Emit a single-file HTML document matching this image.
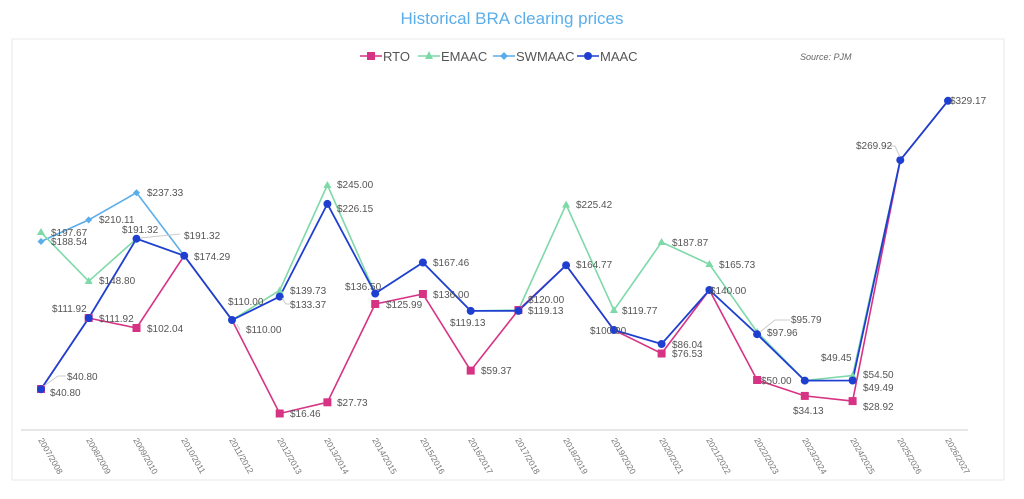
<!DOCTYPE html>
<html><head><meta charset="utf-8"><style>
html,body{margin:0;padding:0;background:#fff;}
svg{display:block;font-family:"Liberation Sans",sans-serif;}
</style></head><body>
<svg width="1024" height="499" viewBox="0 0 1024 499">
<rect x="12" y="39" width="992" height="441" fill="#fff" stroke="#e8e8e8"/>
<text x="512" y="24" text-anchor="middle" font-size="17" fill="#5aaeea">Historical BRA clearing prices</text>
<g font-size="13" fill="#555">
<line x1="360" y1="56" x2="382" y2="56" stroke="#d63384" stroke-width="1.5"/><rect x="367" y="52" width="8" height="8" fill="#d63384"/><text x="383" y="61">RTO</text>
<line x1="418" y1="56" x2="440" y2="56" stroke="#7dd9a8" stroke-width="1.5"/><polygon points="429,51 433,59 425,59" fill="#7dd9a8"/><text x="441" y="61">EMAAC</text>
<line x1="493" y1="56" x2="515" y2="56" stroke="#5aaeea" stroke-width="1.5"/><polygon points="504,52 508,56 504,60 500,56" fill="#5aaeea"/><text x="516" y="61">SWMAAC</text>
<line x1="577" y1="56" x2="599" y2="56" stroke="#1f3fd0" stroke-width="1.5"/><circle cx="588" cy="56" r="4" fill="#1f3fd0"/><text x="600" y="61">MAAC</text>
</g>
<text x="800" y="60" font-size="9" font-style="italic" fill="#666">Source: PJM</text>
<line x1="21" y1="430" x2="968" y2="430" stroke="#ddd" stroke-width="1.5"/>
<g font-size="8.5" fill="#777">
<text transform="translate(38,440) rotate(60)">2007/2008</text>
<text transform="translate(86,440) rotate(60)">2008/2009</text>
<text transform="translate(133,440) rotate(60)">2009/2010</text>
<text transform="translate(181,440) rotate(60)">2010/2011</text>
<text transform="translate(229,440) rotate(60)">2011/2012</text>
<text transform="translate(277,440) rotate(60)">2012/2013</text>
<text transform="translate(324,440) rotate(60)">2013/2014</text>
<text transform="translate(372,440) rotate(60)">2014/2015</text>
<text transform="translate(420,440) rotate(60)">2015/2016</text>
<text transform="translate(468,440) rotate(60)">2016/2017</text>
<text transform="translate(515,440) rotate(60)">2017/2018</text>
<text transform="translate(563,440) rotate(60)">2018/2019</text>
<text transform="translate(611,440) rotate(60)">2019/2020</text>
<text transform="translate(659,440) rotate(60)">2020/2021</text>
<text transform="translate(706,440) rotate(60)">2021/2022</text>
<text transform="translate(754,440) rotate(60)">2022/2023</text>
<text transform="translate(802,440) rotate(60)">2023/2024</text>
<text transform="translate(850,440) rotate(60)">2024/2025</text>
<text transform="translate(897,440) rotate(60)">2025/2026</text>
<text transform="translate(945,440) rotate(60)">2026/2027</text>
</g>
<!-- SWMAAC -->
<polyline fill="none" stroke="#5aaeea" stroke-width="1.6" points="41,241.5 88.7,219.9 136.5,192.7 184.2,255.7"/>
<!-- EMAAC -->
<polyline fill="none" stroke="#7dd9a8" stroke-width="1.6" points="41,232.3 88.7,281.2 136.5,238.7 184.2,255.7 232,320 279.7,290.3 327.4,185 375.2,293.5 422.9,262.5 470.7,310.9 518.4,310 566.1,204.6 613.9,310.2 661.6,242.1 709.4,264.3 757.1,332 804.8,380.6 852.6,375.5 900.3,160.1 948,100.8"/>
<!-- RTO -->
<polyline fill="none" stroke="#d63384" stroke-width="1.6" points="41,389.2 88.7,318.1 136.5,328 184.2,255.7 232,320 279.7,413.5 327.4,402.3 375.2,304 422.9,294 470.7,370.6 518.4,310 566.1,265.2 613.9,330 661.6,353.5 709.4,290 757.1,380 804.8,395.9 852.6,401.1 900.3,160.1 948,100.8"/>
<!-- MAAC -->
<polyline fill="none" stroke="#1f3fd0" stroke-width="1.8" points="41,389.2 88.7,318.1 136.5,238.7 184.2,255.7 232,320 279.7,296.6 327.4,203.9 375.2,293.5 422.9,262.5 470.7,310.9 518.4,310.9 566.1,265.2 613.9,330 661.6,344 709.4,290 757.1,334.2 804.8,380.6 852.6,380.5 900.3,160.1 948,100.8"/>
<g fill="#5aaeea">
<polygon points="41,238 44.5,241.5 41,245 37.5,241.5"/><polygon points="88.7,216.4 92.2,219.9 88.7,223.4 85.2,219.9"/><polygon points="136.5,189.2 140,192.7 136.5,196.2 133,192.7"/>
</g>
<g fill="#7dd9a8">
<polygon points="41,228 45,235 37,235"/><polygon points="88.7,277 92.7,284 84.7,284"/><polygon points="327.4,181 331.4,188 323.4,188"/><polygon points="566.1,200.6 570.1,207.6 562.1,207.6"/><polygon points="613.9,306 617.9,313 609.9,313"/><polygon points="661.6,238 665.6,245 657.6,245"/><polygon points="709.4,260 713.4,267 705.4,267"/><polygon points="757.1,328 761.1,335 753.1,335"/><polygon points="852.6,371.5 856.6,378.5 848.6,378.5"/><polygon points="279.7,286.5 283.7,293.5 275.7,293.5"/>
</g>
<g fill="#d63384">
<rect x="37" y="385" width="8" height="8"/><rect x="84.7" y="314" width="8" height="8"/><rect x="132.5" y="324" width="8" height="8"/><rect x="275.7" y="409.5" width="8" height="8"/><rect x="323.4" y="398.3" width="8" height="8"/><rect x="371.2" y="300" width="8" height="8"/><rect x="418.9" y="290" width="8" height="8"/><rect x="466.7" y="366.6" width="8" height="8"/><rect x="514.4" y="306" width="8" height="8"/><rect x="657.6" y="349.5" width="8" height="8"/><rect x="753.1" y="376" width="8" height="8"/><rect x="800.8" y="391.9" width="8" height="8"/><rect x="848.6" y="397.1" width="8" height="8"/>
</g>
<g fill="#1f3fd0">
<circle cx="41" cy="389.2" r="4"/><circle cx="88.7" cy="318.1" r="4"/><circle cx="136.5" cy="238.7" r="4"/><circle cx="184.2" cy="255.7" r="4"/><circle cx="232" cy="320" r="4"/><circle cx="279.7" cy="296.6" r="4"/><circle cx="327.4" cy="203.9" r="4"/><circle cx="375.2" cy="293.5" r="4"/><circle cx="422.9" cy="262.5" r="4"/><circle cx="470.7" cy="310.9" r="4"/><circle cx="518.4" cy="310.9" r="4"/><circle cx="566.1" cy="265.2" r="4"/><circle cx="613.9" cy="330" r="4"/><circle cx="661.6" cy="344" r="4"/><circle cx="709.4" cy="290" r="4"/><circle cx="757.1" cy="334.2" r="4"/><circle cx="804.8" cy="380.6" r="4"/><circle cx="852.6" cy="380.5" r="4"/><circle cx="900.3" cy="160.1" r="4"/><circle cx="948" cy="100.8" r="4"/>
</g>
<g stroke="#ccc" fill="none">
<path d="M44,386 L58,376 L66,376"/><path d="M140,238 L180,234"/><path d="M282,298 L286,304 L292,304"/><path d="M237,324 L240,330"/><path d="M760,332 L775,320 L790,320"/><path d="M900,157 L895,146 L884,146"/>
</g>
<g font-size="10" fill="#555">
<text x="50" y="396">$40.80</text><text x="67" y="380">$40.80</text>
<text x="51" y="236">$197.67</text><text x="51" y="245">$188.54</text>
<text x="99" y="284">$148.80</text><text x="99" y="223">$210.11</text>
<text x="52" y="312">$111.92</text><text x="99" y="322">$111.92</text>
<text x="147" y="332">$102.04</text><text x="122" y="233">$191.32</text><text x="147" y="196">$237.33</text>
<text x="184" y="239">$191.32</text><text x="194" y="260">$174.29</text>
<text x="228" y="305">$110.00</text><text x="246" y="333">$110.00</text>
<text x="290" y="294">$139.73</text><text x="290" y="308">$133.37</text>
<text x="290" y="417">$16.46</text><text x="337" y="406">$27.73</text>
<text x="337" y="188">$245.00</text><text x="337" y="212">$226.15</text>
<text x="345" y="290">$136.50</text><text x="386" y="308">$125.99</text>
<text x="433" y="266">$167.46</text><text x="433" y="298">$136.00</text>
<text x="450" y="326">$119.13</text><text x="481" y="374">$59.37</text>
<text x="528" y="303">$120.00</text><text x="528" y="314">$119.13</text>
<text x="576" y="208">$225.42</text><text x="576" y="268">$164.77</text>
<text x="622" y="314">$119.77</text><text x="590" y="334">$100.00</text>
<text x="672" y="246">$187.87</text><text x="672" y="348">$86.04</text><text x="672" y="357">$76.53</text>
<text x="719" y="268">$165.73</text><text x="710" y="294">$140.00</text>
<text x="767" y="336">$97.96</text><text x="791" y="323">$95.79</text><text x="761" y="384">$50.00</text>
<text x="821" y="361">$49.45</text><text x="793" y="414">$34.13</text>
<text x="863" y="378">$54.50</text><text x="863" y="391">$49.49</text><text x="863" y="410">$28.92</text>
<text x="856" y="149">$269.92</text><text x="950" y="104">$329.17</text>
</g>
</svg>
</body></html>
